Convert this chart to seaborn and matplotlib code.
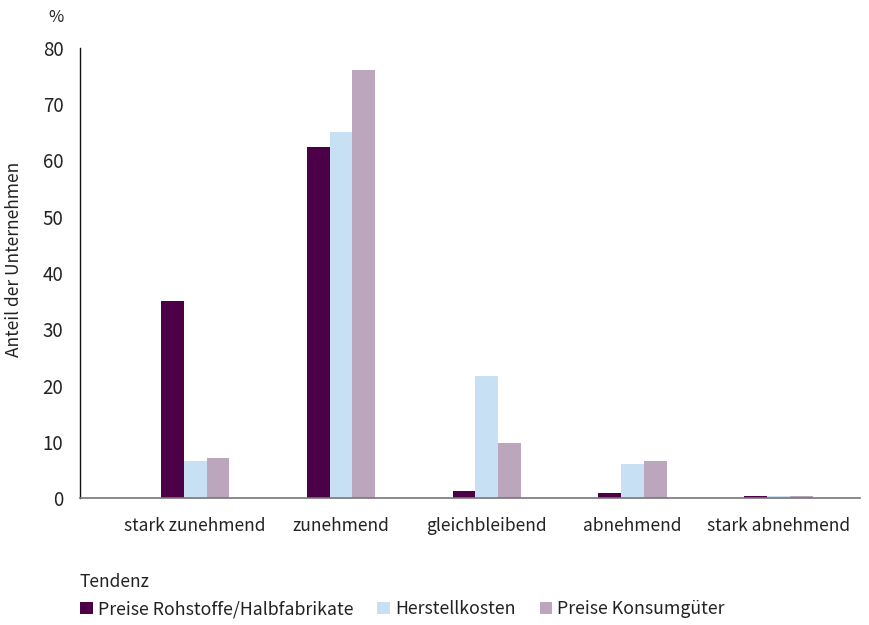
import matplotlib
matplotlib.use("Agg")
import matplotlib.pyplot as plt
import seaborn as sns
import pandas as pd
from matplotlib.patches import Patch

categories = ["stark zunehmend", "zunehmend", "gleichbleibend", "abnehmend", "stark abnehmend"]
series_names = ["Preise Rohstoffe/Halbfabrikate", "Herstellkosten", "Preise Konsumgüter"]
rohstoffe = [35.0, 62.4, 1.3, 0.9, 0.4]
herstellkosten = [6.6, 65.1, 21.7, 6.0, 0.4]
konsumgueter = [7.1, 76.1, 9.8, 6.6, 0.4]
colors = ["#4c0047", "#c8e0f3", "#bca6bd"]
y_ticks = [0, 10, 20, 30, 40, 50, 60, 70, 80]

rows = []
for name, vals in zip(series_names, [rohstoffe, herstellkosten, konsumgueter]):
    for cat, v in zip(categories, vals):
        rows.append({"Tendenz": cat, "Serie": name, "Wert": v})
df = pd.DataFrame(rows)

sns.set_style("white")
plt.rcParams["font.family"] = ["Noto Sans CJK KR", "DejaVu Sans"]

fig = plt.figure(figsize=(8.7, 6.25), dpi=100)
ax = fig.add_axes([80 / 870, 1 - 498 / 625, 780 / 870, 450 / 625])

sns.barplot(data=df, x="Tendenz", y="Wert", hue="Serie", order=categories,
            hue_order=series_names, palette=colors, width=0.47, saturation=1,
            linewidth=0, ax=ax, legend=False)

ax.set_xlim(-0.79, 4.56)
ax.set_ylim(0, 80)
ax.set_yticks(y_ticks)
ax.tick_params(axis="y", direction="in", length=8, width=1, color="#555555",
               labelsize=13.5, pad=12, labelcolor="#222222")
ax.tick_params(axis="x", length=0, labelsize=12.5, pad=14, labelcolor="#222222")
ax.set_xlabel("")
ax.set_ylabel("Anteil der Unternehmen", fontsize=12.5, color="#222222")
ax.yaxis.set_label_coords(-0.073, 0.53)
for side in ["top", "right"]:
    ax.spines[side].set_visible(False)
ax.spines["left"].set_color("#111111")
ax.spines["left"].set_linewidth(1)
ax.spines["bottom"].set_color("#777777")
ax.spines["bottom"].set_linewidth(1.2)

fig.text(56 / 870, 1 - 18 / 625, "%", fontsize=12, color="#222222", ha="center", va="center")
fig.text(80 / 870, 1 - 582 / 625, "Tendenz", fontsize=12.5, color="#222222", ha="left", va="center")

handles = [Patch(facecolor=c, edgecolor="none") for c in colors]
leg = fig.legend(handles, series_names, loc="center left", bbox_to_anchor=(73 / 870, 1 - 609 / 625),
                 ncol=3, frameon=False, fontsize=12.8, handlelength=0.7, handleheight=0.7,
                 handletextpad=0.3, columnspacing=1.35, borderaxespad=0)
for t in leg.get_texts():
    t.set_color("#222222")

fig.savefig("out.png", dpi=100)
